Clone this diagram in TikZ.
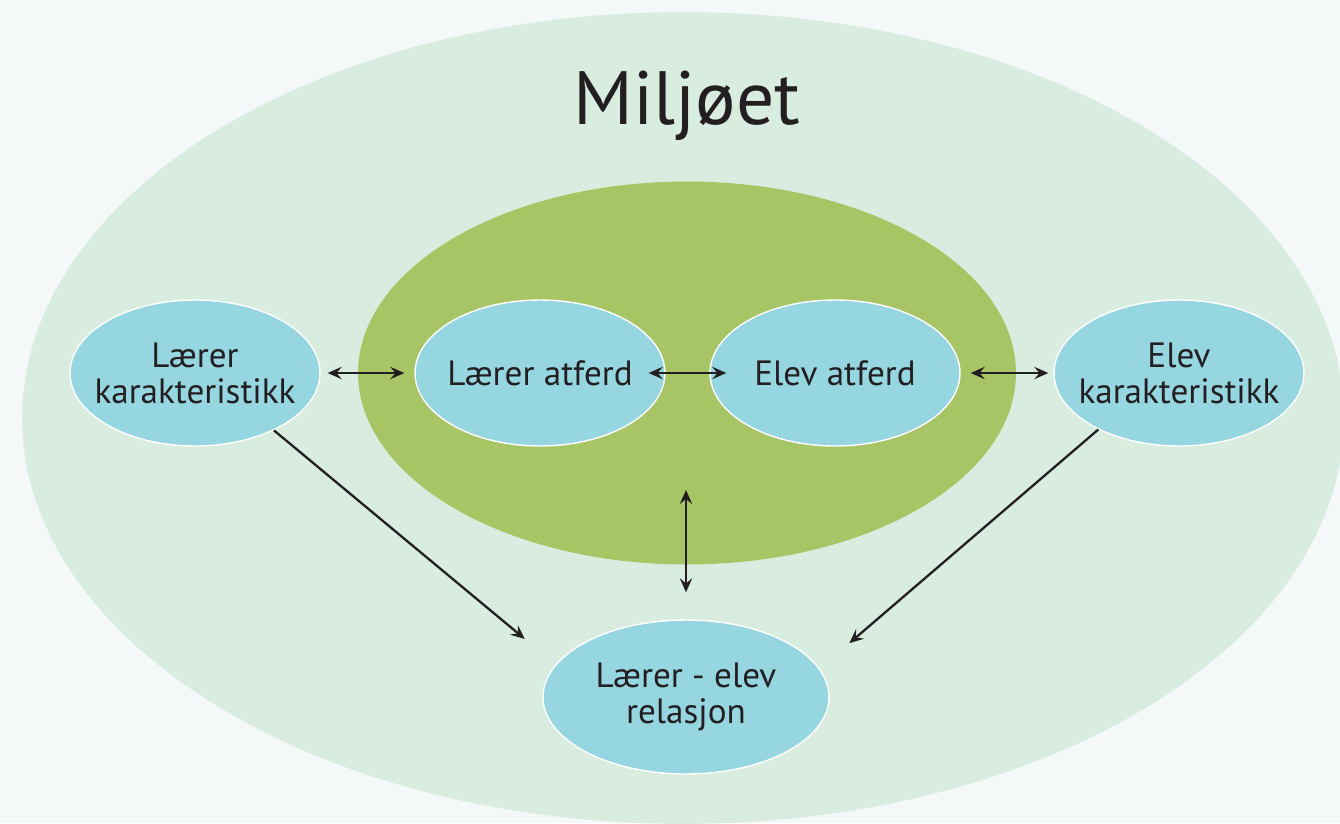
\documentclass[tikz,border=0pt]{standalone}
\usepackage{fontspec}
\setmainfont{PT Sans}
\usepackage{tikz}
\usetikzlibrary{arrows.meta,shapes.geometric}
\definecolor{bakgrunn}{HTML}{F4F8F8}
\definecolor{miljo}{HTML}{D8ECE0}
\definecolor{kjerne}{HTML}{A8C566}
\definecolor{blaa}{HTML}{95D6E0}
\definecolor{tekst}{HTML}{231F20}
\tikzstyle{boble} = [ellipse,draw=white,line width=0.8pt,fill=blaa,text=tekst,inner xsep=-0.4cm,inner ysep=0pt,minimum width=5cm,minimum height=2.92cm,align=center,font=\fontsize{20}{20.5}\selectfont]
\tikzstyle{pil}   = [draw=tekst,line width=1.3pt]

\begin{document}
\begin{tikzpicture}[x=0.02cm,y=-0.02cm,>={Stealth[length=8pt,width=7pt,inset=3pt]}]

\fill[bakgrunn] (0,0) rectangle (1340,823);
\useasboundingbox (0,0) rectangle (1340,823);

% omraadene
\fill[miljo] (683,418) ellipse [x radius=13.22cm, y radius=8.12cm];
\node[ellipse,fill=kjerne,inner sep=0pt,minimum width=13.16cm,minimum height=7.66cm] (felt) at (687,373) {};
\node[anchor=base,text=tekst,font=\fontsize{43}{45}\selectfont] (tittel) at (687,124) {Miljøet};

% boblene
\node[boble] (LK) at (195,373) {Lærer\\karakteristikk};
\node[boble] (LA) at (540,373) {Lærer atferd};
\node[boble] (EA) at (835,373) {Elev atferd};
\node[boble] (EK) at (1179,373) {Elev\\karakteristikk};
\node[boble,minimum width=5.72cm,minimum height=3.08cm] (LE) at (686,697) {Lærer - elev\\relasjon};
\coordinate (midt) at (686,490);

\path[pil]
	(LK) edge[<->,shorten <=0.14cm,shorten >=0.2cm] (LA)
	(LA) edge[<->,shorten <=-0.34cm,shorten >=-0.34cm] (EA)
	(EA) edge[<->,shorten <=0.2cm,shorten >=0.1cm] (EK)
	(LE) edge[<->,shorten <=0.54cm] (midt);

\path[pil]
	(LK.-36) edge[->,shorten >=0.8cm] (LE.166)
	(EK.215) edge[->,shorten >=0.78cm] (LE.12);

\end{tikzpicture}
\end{document}
